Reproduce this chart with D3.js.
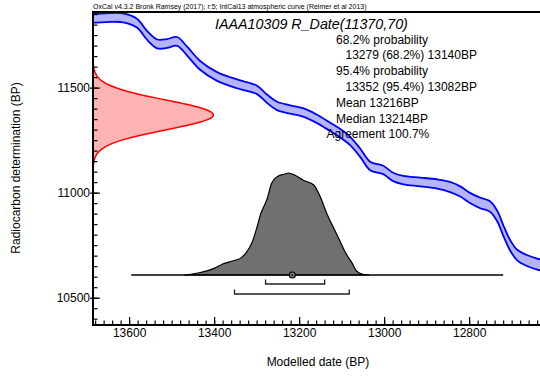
<!DOCTYPE html>
<html>
<head>
<meta charset="utf-8">
<script src="https://cdn.jsdelivr.net/npm/d3@7"></script>
<style>
  html, body { margin: 0; padding: 0; background: #fff; }
  svg { display: block; }
  text { font-family: Arial, "Liberation Sans", sans-serif; fill: #000; }
</style>
</head>
<body>
<svg id="chart" width="540" height="376"></svg>
<script>
// ---------------- DATA ----------------
const headerText = "OxCal v4.3.2 Bronk Ramsey (2017); r:5; IntCal13 atmospheric curve (Reimer et al 2013)";
const titleText = "IAAA10309 R_Date(11370,70)";
const infoLines = [
  "68.2% probability",
  "13279 (68.2%) 13140BP",
  "95.4% probability",
  "13352 (95.4%) 13082BP",
  "Mean 13216BP",
  "Median 13214BP",
  "Agreement 100.7%"
];
const infoIndent = [0, 1, 0, 1, 0, 0, -1];

// Calibration curve (IntCal13 section): cal BP, 14C BP, 1-sigma
const curveCal = [13690, 13680, 13645, 13614, 13581, 13558, 13534, 13511, 13487, 13464, 13433, 13393, 13346, 13332, 13299, 13275, 13252, 13221, 13191, 13158, 13127, 13104, 13080, 13056, 13033, 13002, 12979, 12955, 12915, 12875, 12845, 12821, 12798, 12774, 12751, 12734, 12720, 12704, 12687, 12664, 12640, 12621];
const curveC14 = [11830, 11830, 11834, 11832, 11806, 11749, 11708, 11710, 11720, 11675, 11606, 11553, 11518, 11510, 11489, 11446, 11413, 11396, 11382, 11351, 11313, 11284, 11246, 11189, 11127, 11108, 11075, 11060, 11051, 11041, 11027, 11006, 10975, 10951, 10934, 10889, 10822, 10751, 10703, 10677, 10660, 10651];
const curveSigma = [21, 21, 21, 21, 21, 21, 21, 21, 21, 21, 21, 21, 21, 21, 20, 20, 20, 20, 20, 20, 20, 20, 20, 20, 20, 20, 20, 20, 21, 22, 24, 24, 24, 25, 25, 25, 25, 25, 25, 26, 26, 26];

// Radiocarbon determination 11370 +/- 70 (relative density)
const rdC14 = [11130, 11150, 11170, 11190, 11210, 11230, 11250, 11270, 11290, 11310, 11330, 11350, 11370, 11390, 11410, 11430, 11450, 11470, 11490, 11510, 11530, 11550, 11570, 11590, 11610];
const rdDens = [0.0028, 0.0072, 0.0169, 0.0367, 0.0734, 0.135, 0.230, 0.360, 0.520, 0.693, 0.849, 0.960, 1, 0.960, 0.849, 0.693, 0.520, 0.360, 0.230, 0.135, 0.0734, 0.0367, 0.0169, 0.0072, 0.0028];

// Calibrated (modelled) date distribution (relative probability)
const distCal = [13470, 13455, 13435, 13400, 13380, 13355, 13335, 13325, 13310, 13300, 13290, 13275, 13265, 13250, 13235, 13225, 13210, 13190, 13165, 13160, 13150, 13135, 13120, 13105, 13090, 13075, 13065, 13050, 13035];
const distProb = [0, 0.007, 0.022, 0.065, 0.108, 0.14, 0.173, 0.218, 0.326, 0.457, 0.603, 0.75, 0.897, 0.968, 0.988, 1.0, 0.978, 0.929, 0.88, 0.847, 0.765, 0.603, 0.472, 0.342, 0.212, 0.114, 0.039, 0.007, 0];

const range68 = [13279, 13140];
const range95 = [13352, 13082];
const meanDate = 13216;
const baseLineRange = [13595, 12720];

const xMajorTicks = [13600, 13400, 13200, 13000, 12800];
const xMinorTicks = d3.range(13680, 12620, -20);
const yMajorTicks = [10500, 11000, 11500];
const yMinorTicks = d3.range(10400, 11860, 50);

// ---------------- LAYOUT ----------------
const plot = { left: 93, top: 12, bottom: 325, right: 541 };
const x = d3.scaleLinear().domain([13685, 12630]).range([93, 541.4]);
const y = d3.scaleLinear().domain([10370, 11860]).range([plot.bottom, plot.top]);
const rdWidth = d3.scaleLinear().domain([0, 1]).range([0, 122]);
const distBaseY = 275;
const distH = d3.scaleLinear().domain([0, 1]).range([0, 102]);

const svg = d3.select("#chart");
svg.append("defs").append("clipPath").attr("id", "plotclip")
  .append("rect").attr("x", plot.left).attr("y", plot.top)
  .attr("width", plot.right - plot.left).attr("height", plot.bottom - plot.top);

const g = svg.append("g").attr("clip-path", "url(#plotclip)");

// Calibration curve band
const curveData = curveCal.map((c, i) => ({ cal: c, c14: curveC14[i], s: curveSigma[i] }));
const crv = d3.curveCatmullRom;
g.append("path").datum(curveData)
  .attr("d", d3.area().curve(crv).x(d => x(d.cal)).y0(d => y(d.c14 - d.s)).y1(d => y(d.c14 + d.s)))
  .attr("fill", "#b4b4ff").attr("stroke", "none");
[1, -1].forEach(sgn => {
  g.append("path").datum(curveData)
    .attr("d", d3.line().curve(crv).x(d => x(d.cal)).y(d => y(d.c14 + sgn * d.s)))
    .attr("fill", "none").attr("stroke", "#0000ff").attr("stroke-width", 1.8);
});

// Radiocarbon determination (red)
const rdData = rdC14.map((c, i) => ({ c14: c, p: rdDens[i] }));
g.append("path").datum(rdData)
  .attr("d", d3.area().curve(d3.curveBasis).y(d => y(d.c14)).x0(plot.left).x1(d => plot.left + rdWidth(d.p)))
  .attr("fill", "#ffb4b4").attr("stroke", "none");
g.append("path").datum(rdData)
  .attr("d", d3.line().curve(d3.curveBasis).y(d => y(d.c14)).x(d => plot.left + rdWidth(d.p)))
  .attr("fill", "none").attr("stroke", "#ff0000").attr("stroke-width", 1.5);

// Modelled distribution (grey)
const distData = distCal.map((c, i) => ({ cal: c, p: distProb[i] }));
g.append("path").datum(distData)
  .attr("d", d3.area().curve(d3.curveMonotoneX).x(d => x(d.cal)).y0(distBaseY).y1(d => distBaseY - distH(d.p)))
  .attr("fill", "#707070").attr("stroke", "#000").attr("stroke-width", 1.2);

// Baseline
g.append("line")
  .attr("x1", x(baseLineRange[0])).attr("x2", x(baseLineRange[1]))
  .attr("y1", distBaseY).attr("y2", distBaseY)
  .attr("stroke", "#000").attr("stroke-width", 1.5);

// Range bars
[[range68, distBaseY + 9], [range95, distBaseY + 19]].forEach(([r, yy]) => {
  g.append("path")
    .attr("d", `M${x(r[0])},${yy - 4.5}V${yy}H${x(r[1])}V${yy - 4.5}`)
    .attr("fill", "none").attr("stroke", "#222").attr("stroke-width", 1.3);
});

// Mean marker
g.append("circle").attr("cx", x(meanDate)).attr("cy", distBaseY).attr("r", 3)
  .attr("fill", "#888").attr("stroke", "#000").attr("stroke-width", 1.2);
g.append("circle").attr("cx", x(meanDate)).attr("cy", distBaseY).attr("r", 1)
  .attr("fill", "#000");

// ---------------- AXES ----------------
const xAxisMajor = d3.axisBottom(x).tickValues(xMajorTicks).tickSize(-8).tickPadding(3)
  .tickFormat(d3.format("d"));
const xAxisMinor = d3.axisBottom(x).tickValues(xMinorTicks).tickSize(-4.5).tickFormat("");
const gxMinor = svg.append("g").attr("transform", `translate(0,${plot.bottom})`).call(xAxisMinor);
const gx = svg.append("g").attr("transform", `translate(0,${plot.bottom})`).call(xAxisMajor);
[gx, gxMinor].forEach(a => {
  a.select(".domain").remove();
  a.selectAll("line").attr("stroke", "#000").attr("stroke-width", 1.2);
});
gx.selectAll("text").attr("font-size", 12).attr("font-family", "Arial, 'Liberation Sans', sans-serif").attr("fill", "#000");

const yAxisMajor = d3.axisLeft(y).tickValues(yMajorTicks).tickSize(-7).tickPadding(3)
  .tickFormat(d3.format("d"));
const yAxisMinor = d3.axisLeft(y).tickValues(yMinorTicks).tickSize(-4.5).tickFormat("");
const gyMinor = svg.append("g").attr("transform", `translate(${plot.left},0)`).call(yAxisMinor);
const gy = svg.append("g").attr("transform", `translate(${plot.left},0)`).call(yAxisMajor);
[gy, gyMinor].forEach(a => {
  a.select(".domain").remove();
  a.selectAll("line").attr("stroke", "#000").attr("stroke-width", 1.2);
});
gy.selectAll("text").attr("font-size", 12).attr("font-family", "Arial, 'Liberation Sans', sans-serif").attr("fill", "#000");
gy.selectAll(".tick line").attr("x1", -3);

// Frame lines
svg.append("path")
  .attr("d", `M${plot.right},${plot.top}H${plot.left}V${plot.bottom}H${plot.right}`)
  .attr("fill", "none").attr("stroke", "#000").attr("stroke-width", 2);

// ---------------- TEXT ----------------
svg.append("text").attr("x", 93).attr("y", 9).attr("font-size", 7).text(headerText);
svg.append("text").attr("x", 215).attr("y", 29).attr("font-size", 14.3)
  .attr("font-style", "italic").text(titleText);

infoLines.forEach((t, i) => {
  svg.append("text")
    .attr("x", 336 + infoIndent[i] * 9.5)
    .attr("y", 43.5 + i * 15.8)
    .attr("font-size", 12)
    .text(t);
});

svg.append("text").attr("x", 318).attr("y", 366).attr("font-size", 12)
  .attr("text-anchor", "middle").text("Modelled date (BP)");
svg.append("text").attr("transform", "translate(20,168) rotate(-90)")
  .attr("font-size", 12).attr("text-anchor", "middle").text("Radiocarbon determination (BP)");
</script>
</body>
</html>
